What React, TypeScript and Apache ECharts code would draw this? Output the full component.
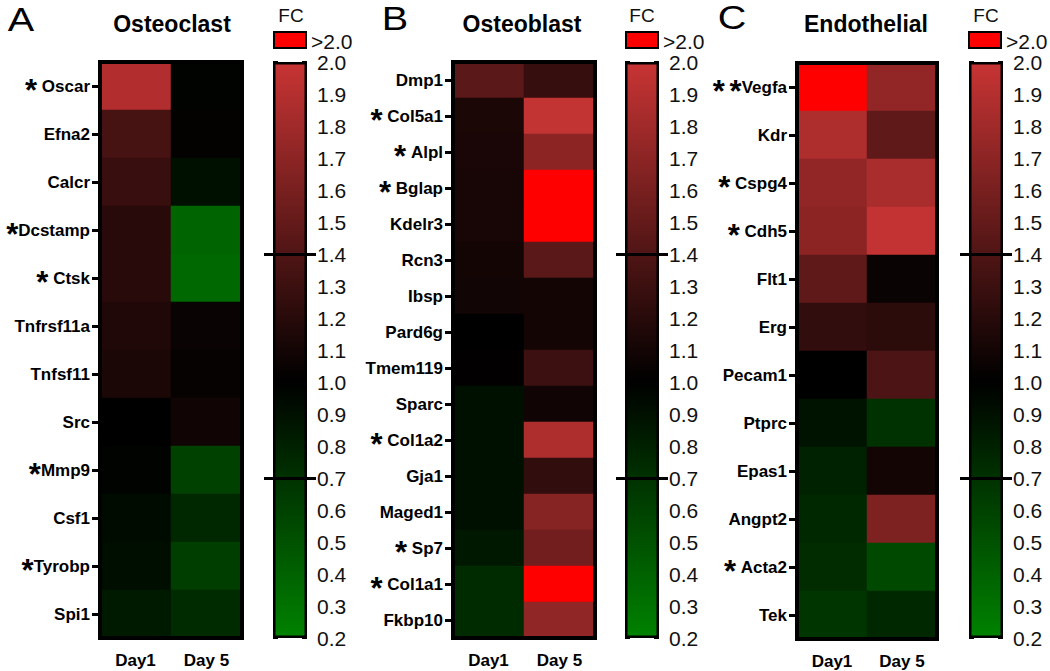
import React, { useEffect, useRef } from "react";
import * as echarts from "echarts";

const days = ["Day1", "Day 5"];

const osteoclastGenes = ["* Oscar", "Efna2", "Calcr", "*Dcstamp", "* Ctsk", "Tnfrsf11a", "Tnfsf11", "Src", "*Mmp9", "Csf1", "*Tyrobp", "Spi1"];
const osteoclastDay1 = [1.89, 1.35, 1.28, 1.2, 1.2, 1.16, 1.14, 1.0, 0.98, 0.93, 0.91, 0.84];
const osteoclastDay5 = [0.98, 1.02, 0.9, 0.38, 0.36, 1.05, 1.03, 1.08, 0.6, 0.75, 0.62, 0.74];

const osteoblastGenes = ["Dmp1", "* Col5a1", "* Alpl", "* Bglap", "Kdelr3", "Rcn3", "Ibsp", "Pard6g", "Tmem119", "Sparc", "* Col1a2", "Gja1", "Maged1", "* Sp7", "* Col1a1", "Fkbp10"];
const osteoblastDay1 = [1.45, 1.14, 1.13, 1.12, 1.12, 1.1, 1.09, 1.0, 1.01, 0.9, 0.9, 0.9, 0.9, 0.85, 0.74, 0.74];
const osteoblastDay5 = [1.27, 1.97, 1.7, 2.5, 2.5, 1.45, 1.1, 1.1, 1.3, 1.08, 1.87, 1.25, 1.67, 1.57, 2.5, 1.72];

const endothelialGenes = ["* *Vegfa", "Kdr", "* Cspg4", "* Cdh5", "Flt1", "Erg", "Pecam1", "Ptprc", "Epas1", "Angpt2", "* Acta2", "Tek"];
const endothelialDay1 = [2.5, 1.87, 1.73, 1.7, 1.48, 1.25, 1.0, 0.88, 0.79, 0.75, 0.73, 0.67];
const endothelialDay5 = [1.73, 1.48, 1.85, 1.98, 1.05, 1.22, 1.38, 0.7, 1.1, 1.63, 0.55, 0.75];

const panelLetters = ["A", "B", "C"];
const panelTitles = ["Osteoclast", "Osteoblast", "Endothelial"];
const scaleMin = 0.2;
const scaleMax = 2.0;
const scaleStep = 0.1;
const thresholds = [1.4, 0.7];
const scaleColors = ["#008200", "#006100", "#004100", "#002000", "#000000", "#280A0A", "#501515", "#781F1F", "#A02A2A", "#C83434"];
const overColor = "#FF0000";

const FONT = '"Liberation Sans", Arial, sans-serif';

const layout = [
  { heat: { left: 100, top: 62, width: 142, height: 576 }, barLeft: 273, letter: [21, 20], title: 172, fc: 291, box: 274 },
  { heat: { left: 453, top: 62, width: 142, height: 576 }, barLeft: 625, letter: [395, 19], title: 522, fc: 642, box: 626 },
  { heat: { left: 797, top: 63, width: 140, height: 576 }, barLeft: 969, letter: [732, 18], title: 866, fc: 986, box: 969 },
];

const panelData = [
  { genes: osteoclastGenes, d1: osteoclastDay1, d5: osteoclastDay5 },
  { genes: osteoblastGenes, d1: osteoblastDay1, d5: osteoblastDay5 },
  { genes: endothelialGenes, d1: endothelialDay1, d5: endothelialDay5 },
];

function geneFormatter(v: string) {
  const m = v.match(/^([* ]*)(.*)$/);
  const lead = m ? m[1] : "";
  const name = m ? m[2] : v;
  let out = "";
  for (const ch of lead) {
    out += ch === "*" ? "{s|*}" : "{n| }";
  }
  return out + "{n|" + name + "}";
}

export default function App() {
  const ref = useRef<HTMLDivElement>(null);
  useEffect(() => {
    if (!ref.current) return;
    const chart = echarts.init(ref.current, undefined, { renderer: "svg" });
    const grid: any[] = [];
    const xAxis: any[] = [];
    const yAxis: any[] = [];
    const series: any[] = [];
    const graphic: any[] = [];
    const heatIdx: number[] = [];
    const barW = 34;
    const pad = 9;

    panelData.forEach((p, i) => {
      const L = layout[i];
      grid.push({ ...L.heat, show: true, borderColor: "#000", borderWidth: 4, backgroundColor: "transparent", z: 5 });
      grid.push({ left: L.barLeft - pad, top: 62, width: barW + 2 * pad, height: 576 });
      xAxis.push({
        type: "category", gridIndex: 2 * i, data: days, position: "bottom",
        axisLine: { show: false }, axisTick: { show: false }, splitLine: { show: false },
        axisLabel: { fontSize: 17, fontWeight: "bold", color: "#000", margin: 14, fontFamily: FONT },
      });
      xAxis.push({ type: "category", gridIndex: 2 * i + 1, data: ["FC"], show: false });
      yAxis.push({
        type: "category", gridIndex: 2 * i, data: p.genes, inverse: true,
        axisLine: { show: false }, splitLine: { show: false },
        axisTick: { show: true, alignWithLabel: true, interval: 0, length: 8, lineStyle: { color: "#000", width: 3 } },
        axisLabel: {
          interval: 0, margin: 10, color: "#000", formatter: geneFormatter,
          rich: {
            n: { fontSize: 17, fontWeight: "bold", fontFamily: FONT, color: "#000" },
            s: { fontSize: 31, fontWeight: "bold", fontFamily: FONT, color: "#000", padding: [9, 0, 0, 0] },
          },
        },
      });
      const cbRight = yAxis.length;
      yAxis.push({
        type: "value", gridIndex: 2 * i + 1, min: scaleMin, max: scaleMax, interval: scaleStep, position: "right", offset: -pad,
        axisLine: { show: false }, splitLine: { show: false },
        axisTick: { show: true, inside: true, length: 5, lineStyle: { color: "#000", width: 2 } },
        axisLabel: { fontSize: 21, color: "#111", margin: 10, fontFamily: FONT, formatter: (v: number) => v.toFixed(1) },
      });
      yAxis.push({
        type: "value", gridIndex: 2 * i + 1, min: scaleMin, max: scaleMax, interval: scaleStep, position: "left", offset: -pad,
        axisLine: { show: false }, splitLine: { show: false },
        axisTick: { show: true, inside: true, length: 5, lineStyle: { color: "#000", width: 2 } },
        axisLabel: { show: false },
      });
      const data: any[] = [];
      p.genes.forEach((_, r) => {
        data.push([0, r, p.d1[r]]);
        data.push([1, r, p.d5[r]]);
      });
      heatIdx.push(series.length);
      series.push({
        type: "heatmap", xAxisIndex: 2 * i, yAxisIndex: 3 * i, data, silent: true,
        itemStyle: { borderWidth: 0 }, emphasis: { disabled: true },
      });
      series.push({
        type: "bar", xAxisIndex: 2 * i + 1, yAxisIndex: cbRight, stack: "cb" + i, data: [scaleMin], barWidth: barW,
        itemStyle: { color: "rgba(0,0,0,0)" }, silent: true,
      });
      series.push({
        type: "bar", xAxisIndex: 2 * i + 1, yAxisIndex: cbRight, stack: "cb" + i, data: [scaleMax - scaleMin], barWidth: barW,
        silent: true,
        itemStyle: {
          borderColor: "#000", borderWidth: 2.5,
          color: new echarts.graphic.LinearGradient(0, 0, 0, 1, [
            { offset: 0, color: scaleColors[9] },
            { offset: 0.5556, color: scaleColors[4] },
            { offset: 1, color: scaleColors[0] },
          ]),
        },
        markLine: {
          silent: true, symbol: ["none", "none"], label: { show: false },
          lineStyle: { color: "#000", width: 3, type: "solid" },
          data: thresholds.map((t) => ({ yAxis: t })),
        },
      });
      graphic.push({
        type: "text", x: L.letter[0], y: L.letter[1], scaleX: 1.2,
        style: { text: panelLetters[i], fontSize: 33, fontFamily: FONT, fill: "#000", align: "center", verticalAlign: "middle" },
      });
      graphic.push({
        type: "text", x: L.title, y: 24,
        style: { text: panelTitles[i], fontSize: 23, fontWeight: "bold", fontFamily: FONT, fill: "#000", align: "center", verticalAlign: "middle" },
      });
      graphic.push({
        type: "text", x: L.fc, y: 15,
        style: { text: "FC", fontSize: 19, fontFamily: FONT, fill: "#111", align: "center", verticalAlign: "middle" },
      });
      graphic.push({
        type: "rect", shape: { x: L.box, y: 32, width: 32, height: 16 },
        style: { fill: overColor, stroke: "#000", lineWidth: 2 },
      });
      graphic.push({
        type: "text", x: L.box + 37, y: 41,
        style: { text: ">2.0", fontSize: 21, fontFamily: FONT, fill: "#111", align: "left", verticalAlign: "middle" },
      });
    });

    chart.setOption({
      animation: false,
      backgroundColor: "#fff",
      grid, xAxis, yAxis, series, graphic,
      visualMap: {
        type: "continuous", show: false, seriesIndex: heatIdx, dimension: 2,
        min: scaleMin, max: scaleMax, range: [scaleMin, 1.999],
        inRange: { color: scaleColors },
        outOfRange: { color: [overColor] },
      },
    });
    return () => chart.dispose();
  }, []);
  return <div ref={ref} style={{ position: "fixed", left: 0, top: 0, width: 1050, height: 671, background: "#fff" }} />;
}
